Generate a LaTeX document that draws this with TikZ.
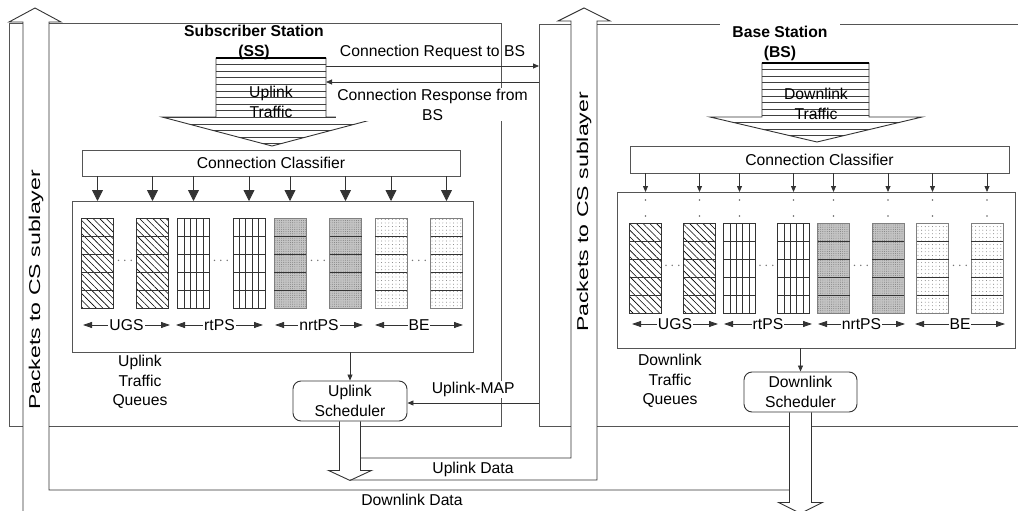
\documentclass[tikz,border=0pt]{standalone}
\usepackage{fontspec}
\setmainfont{Liberation Sans}
\usetikzlibrary{positioning, arrows.meta, patterns.meta}
\definecolor{wire}{HTML}{333333}
\definecolor{frameline}{HTML}{555555}
\definecolor{nrtfill}{HTML}{C4C4C4}

% one queue column of five cells: centre x, top y, style
\newcommand{\qcol}[3]{%
  \draw[#3] (#1-16,#2) rectangle (#1+16,#2+90);
  \foreach \rw in {1,...,4}
    \draw[cell] (#1-16,#2+\rw*18) -- (#1+16,#2+\rw*18);
}
% rtPS column: same cells, plus vertical bars
\newcommand{\rtcol}[2]{%
  \qcol{#1}{#2}{cell}
  \foreach \vb in {1,...,4}
    \draw[cell] (#1-16+\vb*6.4,#2) -- (#1-16+\vb*6.4,#2+90);
}

\begin{document}
\begin{tikzpicture}[
    x=1pt, y=-1pt,
    font=\fontsize{15.7}{19.5}\selectfont,
    stationframe/.style={draw=frameline, line width=0.9pt, inner sep=0pt, outer sep=0pt},
    box/.style={draw=frameline, line width=0.9pt, inner sep=0pt, outer sep=0pt},
    hollow/.style={draw=wire, line width=0.9pt},
    cell/.style={draw=black!80, line width=0.7pt},
    ugs/.style={cell, pattern={Lines[angle=-45, distance=4.7pt, line width=0.6pt]}},
    nrt/.style={cell, draw=black!50, preaction={fill=nrtfill},
                pattern={Dots[radius=0.45pt, distance=2.2pt]}, pattern color=black!55},
    be/.style={cell, draw=black!50,
                pattern={Dots[radius=0.45pt, distance=3.6pt]}, pattern color=black!60},
    feed/.style={-{Triangle[length=11pt, width=11pt]}, draw=wire, line width=0.8pt},
    thinarrow/.style={-{Triangle[length=6pt, width=5pt]}, draw=wire, line width=0.8pt},
    classspan/.style={{Triangle[length=9pt, width=6pt]}-{Triangle[length=9pt, width=6pt]},
                draw=wire, line width=0.8pt},
    sched/.style={draw=wire, rounded corners=8pt, line width=0.9pt, align=center,
                minimum height=40pt, inner sep=0pt},
    lbl/.style={fill=white, inner sep=1pt, align=center},
    title/.style={font=\fontsize{15.7}{19.5}\selectfont\bfseries, align=center},
    stackline/.style={draw=black!75, line width=0.7pt},
    ellip/.style={text=black!55, inner sep=0pt},
]
\useasboundingbox (0,0) rectangle (1018,511);
\clip (0,0) rectangle (1018,511);

% the two stations
\node[stationframe, minimum width=492pt, minimum height=403pt] (ssframe) at (255,224.5) {};
\node[stationframe, minimum width=491pt, minimum height=402pt] (bsframe) at (784.5,225) {};

% titles
\node[title] (sstitle) at (254,42.5) {Subscriber Station\\(SS)};
\node[title, fill=white, inner xsep=12pt, inner ysep=3pt] (bstitle) at (780,43.5) {Base Station\\(BS)};

% classifiers and queue boxes
\node[box, minimum width=378pt, minimum height=26pt] (sscls) at (271,163) {Connection Classifier};
\node[box, minimum width=379pt, minimum height=27pt] (bscls) at (819.5,159.5) {Connection Classifier};
\node[box, minimum width=401pt, minimum height=151pt] (ssq) at (272.5,276.5) {};
\node[box, minimum width=398pt, minimum height=156pt] (bsq) at (816,270) {};

% schedulers
\node[sched, minimum width=114pt] (ulsched) at (350,401) {Uplink\\Scheduler};
\node[sched, minimum width=113pt] (dlsched) at (800.5,392) {Downlink\\Scheduler};

% white shafts of the hollow arrows
\fill[white] (23,22) rectangle (49,489.5);
\fill[white] (9,22) -- (35,8) -- (61,22) -- cycle;
\fill[white] (571,21) rectangle (597,479.5);
\fill[white] (558,21) -- (584,8) -- (610,21) -- cycle;
\fill[white] (339.5,421.5) rectangle (360.5,470);
\fill[white] (789.5,412.5) rectangle (811.5,502);

% downlink data: scheduler arrow, then up to the CS sublayer
\draw[hollow] ([xshift=-11pt]dlsched.south) -- ++(0,90) -- ++(-11,0) -- ++(22,11)
    -- ++(22,-11) -- ++(-11,0) -- ([xshift=11pt]dlsched.south);
\draw[hollow] (789.5,490) -- (49,490) -- (49,22) -- (61,22) -- (35,8) -- (9,22)
    -- (23,22) -- (23,520);

% uplink data: scheduler arrow, then up to the CS sublayer
\draw[hollow] ([xshift=-10.5pt]ulsched.south) -- ++(0,49) -- ++(-11,0) -- ++(21.5,10)
    -- ++(21.5,-10) -- ++(-11,0) -- ([xshift=10.5pt]ulsched.south);
\draw[hollow] (360.5,458) -- (571,458) -- (571,21) -- (558,21) -- (584,8) -- (610,21)
    -- (597,21) -- (597,480) -- (350,480);

% traffic stacks
\node[minimum width=110pt, minimum height=59pt, inner sep=0pt, outer sep=0pt] (ulstack) at (271,87.5) {};
\begin{scope}
  \clip (216,58) -- (326,58) -- (326,117) -- (382,117) -- (272,146) -- (162,117) -- (216,117) -- cycle;
  \foreach \h in {0,...,13} \draw[stackline] (150,58+\h*6.6) -- (400,58+\h*6.6);
\end{scope}
\draw[hollow] (216,117) -- (216,58) -- (326,58) -- (326,117) -- (382,117) -- (272,146) -- (162,117) -- cycle;
\draw[line width=1.6pt] (ulstack.north west) -- (ulstack.north east);
\node[align=center] (ultext) at (271,102) {Uplink\\Traffic};

\node[minimum width=107pt, minimum height=54pt, inner sep=0pt, outer sep=0pt] (dlstack) at (815.5,90) {};
\begin{scope}
  \clip (762,63) -- (869,63) -- (869,117) -- (922,117) -- (817,142) -- (710,117) -- (762,117) -- cycle;
  \foreach \h in {0,...,12} \draw[stackline] (700,63+\h*6.6) -- (930,63+\h*6.6);
\end{scope}
\draw[hollow] (762,117) -- (762,63) -- (869,63) -- (869,117) -- (922,117) -- (817,142) -- (710,117) -- cycle;
\draw[line width=1.6pt] (dlstack.north west) -- (dlstack.north east);
\node[align=center] (dltext) at (816,104) {Downlink\\Traffic};

% connection set-up between SS and BS
\coordinate (reqstart) at ([yshift=-8pt]ulstack.north east);
\coordinate (respend) at ([yshift=-24pt]ulstack.north east);
\draw[thinarrow] (reqstart) -- (reqstart -| bsframe.west)
    node[midway, above=3pt] {Connection Request to BS};
\draw[thinarrow] (respend -| bsframe.west) -- (respend)
    node[midway, below=6pt, lbl] {Connection Response from\\BS};

% classifier to queues
\foreach \x in {97.5,152.5,193.5,249,290,345.5,391,446.5}
  \draw[feed] (\x,0 |- sscls.south) -- (\x,0 |- ssq.north);
\foreach \x in {645.5,699.5,739.5,793.5,833.5,888,932.5,987} {
  \draw[thinarrow] (\x,0 |- bscls.south) -- (\x,0 |- bsq.north);
  \fill[black!60] (\x,200) circle (0.9pt);
  \fill[black!60] (\x,216) circle (0.9pt);
}

% SS queues
\foreach \x in {97.5,152.5} \qcol{\x}{218}{ugs};
\foreach \x in {193.5,249} \rtcol{\x}{218};
\foreach \x in {290,345.5} \qcol{\x}{218}{nrt};
\foreach \x in {391,446.5} \qcol{\x}{218}{be};
\foreach \x in {125,221,318,419} \node[ellip] at (\x,261) {$\cdots$};
\foreach \a/\b/\t in {83/170/UGS, 176/263/rtPS, 275/363/nrtPS, 375/463/BE}
  \draw[classspan] (\a,325) -- (\b,325) node[midway, lbl] {\t};

% BS queues
\foreach \x in {645.5,699.5} \qcol{\x}{223}{ugs};
\foreach \x in {739.5,793.5} \rtcol{\x}{223};
\foreach \x in {833.5,888} \qcol{\x}{223}{nrt};
\foreach \x in {932.5,987} \qcol{\x}{223}{be};
\foreach \x in {672.5,766.5,861,960} \node[ellip] at (\x,266) {$\cdots$};
\foreach \a/\b/\t in {632/718/UGS, 724/812/rtPS, 818/905/nrtPS, 915/1005/BE}
  \draw[classspan] (\a,324) -- (\b,324) node[midway, lbl] {\t};

\node[align=center] (ulqlabel) at (140,382) {Uplink\\Traffic\\Queues};
\node[align=center] (dlqlabel) at (670,381) {Downlink\\Traffic\\Queues};

% queues to schedulers, MAP from BS
\draw[thinarrow] (ulsched.north |- ssq.south) -- (ulsched.north);
\draw[thinarrow] (dlsched.north |- bsq.south) -- (dlsched.north);
\draw[thinarrow] ([yshift=-2pt]ulsched.east -| bsframe.west) -- ([yshift=-2pt]ulsched.east)
    node[midway, above=5pt, lbl] {Uplink-MAP};

% stream labels
\node[rotate=90] (sscs) at (36,290) {\scalebox{1.47}[1]{Packets to CS sublayer}};
\node[rotate=90] (bscs) at (584,212) {\scalebox{1.47}[1]{Packets to CS sublayer}};
\node (uldata) at (473,469) {Uplink Data};
\node (dldata) at (412,500) {Downlink Data};

\end{tikzpicture}
\end{document}
